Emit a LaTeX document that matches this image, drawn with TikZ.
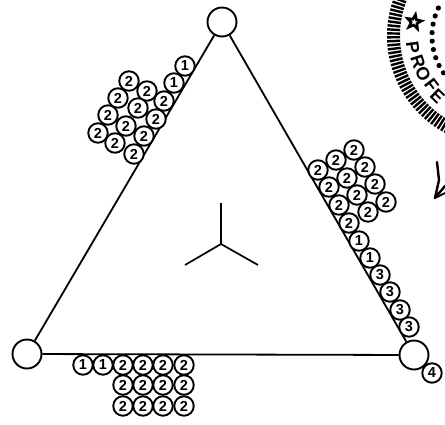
\documentclass[tikz,border=0pt]{standalone}
\usepackage{fontspec}
\setsansfont{Liberation Sans}
\usepackage{tikz}
\usetikzlibrary{shapes.geometric}

\tikzset{
    joint/.style={circle,draw,line width=1.9pt,fill=white,inner sep=0pt,minimum size=29pt},
    bead/.style={circle,draw,line width=1.9pt,fill=white,inner sep=0pt,minimum size=19.5pt,font=\sffamily\bfseries\fontsize{14.5}{15}\selectfont},
    member/.style={line width=1.8pt},
    seal/.style={line width=2.4pt},
    sealtext/.style={inner sep=0pt,font=\sffamily\bfseries\fontsize{18}{18}\selectfont}
}

\begin{document}
\begin{tikzpicture}[x=1pt,y=-1pt]
    \useasboundingbox (0,0) rectangle (445,424);
    \begin{scope}
        \clip (0,0) rectangle (445,424);
        \begin{scope}[shift={(497,36)}]
            \foreach \a in {110,112.1,...,240}{
                \draw[seal] (\a:97) -- (\a:110);
            }
            \foreach \a in {123,130.5,...,210}{
                \fill (\a:65) circle (2.6pt);
            }
            \foreach \a/\r/\lab in {172/85/P,162/83/R,153/83/O,143/82/F,134.5/85/E}{
                \node[sealtext,rotate=90-\a] (seal\lab) at (\a:\r) {\lab};
            }
            \node[star,star points=5,star point ratio=2.4,draw,line width=2.6pt,fill=white,inner sep=2.2pt,rotate=-10] (sealstar) at (189.6:84) {};
        \end{scope}
    \end{scope}

    \node[joint] (top) at (222,22) {};
    \node[joint] (left) at (27,354) {};
    \node[joint] (right) at (414,355) {};
    \draw[member] (top) -- (left);
    \draw[member] (top) -- (right);
    \draw[member] (left) -- (right);

    \coordinate (hub) at (221,244);
    \coordinate (armup) at (221,203);
    \coordinate (armleft) at (185,265);
    \coordinate (armright) at (258,265);
    \draw[line width=1.7pt] (armup) -- (hub);
    \draw[line width=1.7pt] (armleft) -- (hub) -- (armright);

    \foreach \x/\y/\lab [count=\i] in {185/66/1,174/83/1,164/101/2,156/119/2,144/136/2,134/154/2,
        147/91/2,138/108/2,126/126/2,115/143/2,129/81/2,118/98/2,108/115/2,98/133/2}{
        \node[bead] (a\i) at (\x,\y) {\lab};
    }
    \foreach \x/\y/\lab [count=\i] in {354/150/2,336/160/2,318/170/2,365/167/2,347/178/2,329/187/2,
        375/184/2,357/195/2,339/205/2,386/202/2,368/212/2,349/223/2,359/241/1,370/258/1,
        380/275/3,390/292/3,400/310/3,409/327/3}{
        \node[bead] (b\i) at (\x,\y) {\lab};
    }
    \foreach \x/\lab [count=\i] in {83/1,103/1,123/2,143/2,163/2,184/2}{
        \node[bead] (c\i) at (\x,365) {\lab};
    }
    \foreach \x [count=\i] in {123,143,163,184}{
        \node[bead] (d\i) at (\x,385) {2};
        \node[bead] (e\i) at (\x,406) {2};
    }
    \node[bead] (f1) at (432,373) {4};

    \draw[line width=2.4pt,line cap=round,line join=round] (437,162) -- (439,180) -- (435,198) -- (445,186);
    \draw[line width=1.8pt,line cap=round] (437,197) -- (445,193);
\end{tikzpicture}
\end{document}
